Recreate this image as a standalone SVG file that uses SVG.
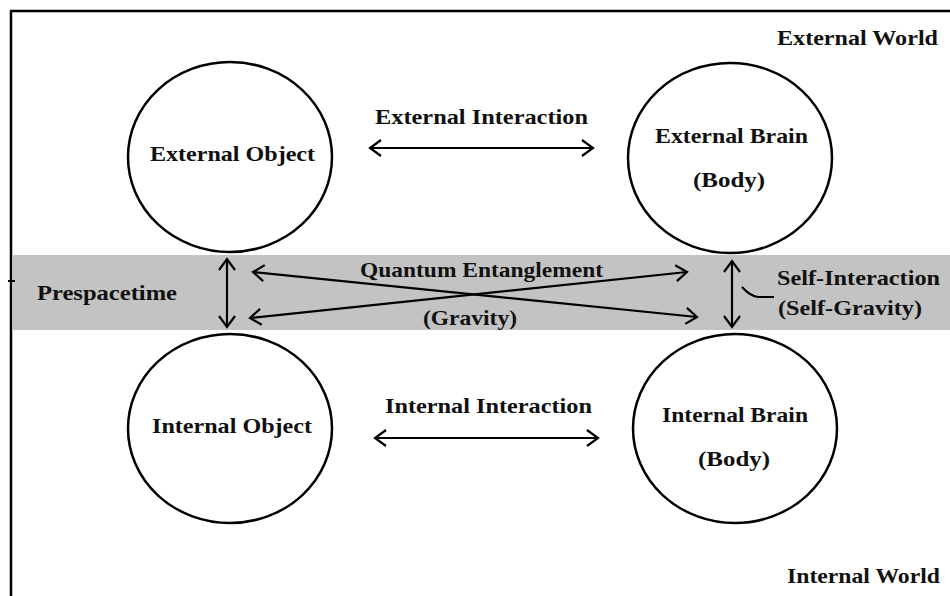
<svg xmlns="http://www.w3.org/2000/svg" width="950" height="596" viewBox="0 0 950 596">
<defs>
<style>
.t{font-family:"Liberation Serif","Times New Roman",serif;font-weight:bold;font-size:22px;fill:#111}
.node{fill:#fff;stroke:#000;stroke-width:2.5}
.c{fill:none;stroke:#000;stroke-width:2.2}
</style>
<marker id="ah" markerUnits="userSpaceOnUse" viewBox="-14 -10 16 20" refX="0" refY="0" markerWidth="16" markerHeight="20" orient="auto-start-reverse">
<path d="M-11,-8 L0,0 L-11,8" fill="none" stroke="#000" stroke-width="2.2"/>
</marker>
</defs>
<rect width="950" height="596" fill="#fff"/>
<g id="frame">
<rect x="13" y="255" width="937" height="75" fill="#c3c3c3"/>
<path d="M11,596 V11 H950" fill="none" stroke="#000" stroke-width="2.5"/>
<line x1="8" y1="281" x2="15" y2="281" stroke="#000" stroke-width="2"/>
<text class="t" x="777" y="45" textLength="161" lengthAdjust="spacingAndGlyphs">External World</text>
<text class="t" x="787" y="583" textLength="153" lengthAdjust="spacingAndGlyphs">Internal World</text>
<text class="t" x="37" y="300" textLength="140" lengthAdjust="spacingAndGlyphs">Prespacetime</text>
</g>
<g id="external-object">
<ellipse class="node" cx="230" cy="157" rx="102" ry="95"/>
<text class="t" x="150" y="161" textLength="165" lengthAdjust="spacingAndGlyphs">External Object</text>
</g>
<g id="external-brain">
<ellipse class="node" cx="730" cy="158" rx="102" ry="95"/>
<text class="t" x="655" y="143" textLength="153" lengthAdjust="spacingAndGlyphs">External Brain</text>
<text class="t" x="693" y="187" textLength="72" lengthAdjust="spacingAndGlyphs">(Body)</text>
</g>
<g id="internal-object">
<ellipse class="node" cx="230" cy="428.5" rx="102" ry="94.5"/>
<text class="t" x="152" y="433" textLength="160" lengthAdjust="spacingAndGlyphs">Internal Object</text>
</g>
<g id="internal-brain">
<ellipse class="node" cx="735" cy="428.5" rx="102" ry="94.5"/>
<text class="t" x="662" y="422" textLength="146" lengthAdjust="spacingAndGlyphs">Internal Brain</text>
<text class="t" x="698" y="466" textLength="72" lengthAdjust="spacingAndGlyphs">(Body)</text>
</g>
<g id="connectors">
<line class="c" x1="370" y1="148" x2="593" y2="148" marker-start="url(#ah)" marker-end="url(#ah)"/>
<line class="c" x1="375" y1="438" x2="598" y2="438" marker-start="url(#ah)" marker-end="url(#ah)"/>
<line class="c" x1="227" y1="259" x2="227" y2="327" marker-start="url(#ah)" marker-end="url(#ah)"/>
<line class="c" x1="732" y1="261" x2="732" y2="327" marker-start="url(#ah)" marker-end="url(#ah)"/>
<line class="c" x1="253" y1="272" x2="697" y2="317" marker-start="url(#ah)" marker-end="url(#ah)"/>
<line class="c" x1="250" y1="318" x2="687" y2="272" marker-start="url(#ah)" marker-end="url(#ah)"/>
<path class="c" d="M742,287 Q750,296 758,297 L774,297"/>
<text class="t" x="375" y="124" textLength="213" lengthAdjust="spacingAndGlyphs">External Interaction</text>
<text class="t" x="385" y="413" textLength="207" lengthAdjust="spacingAndGlyphs">Internal Interaction</text>
<text class="t" x="360" y="277" textLength="243" lengthAdjust="spacingAndGlyphs">Quantum Entanglement</text>
<text class="t" x="423" y="325" textLength="94" lengthAdjust="spacingAndGlyphs">(Gravity)</text>
<text class="t" x="777" y="285" textLength="163" lengthAdjust="spacingAndGlyphs">Self-Interaction</text>
<text class="t" x="778" y="315" textLength="144" lengthAdjust="spacingAndGlyphs">(Self-Gravity)</text>
</g>
</svg>
